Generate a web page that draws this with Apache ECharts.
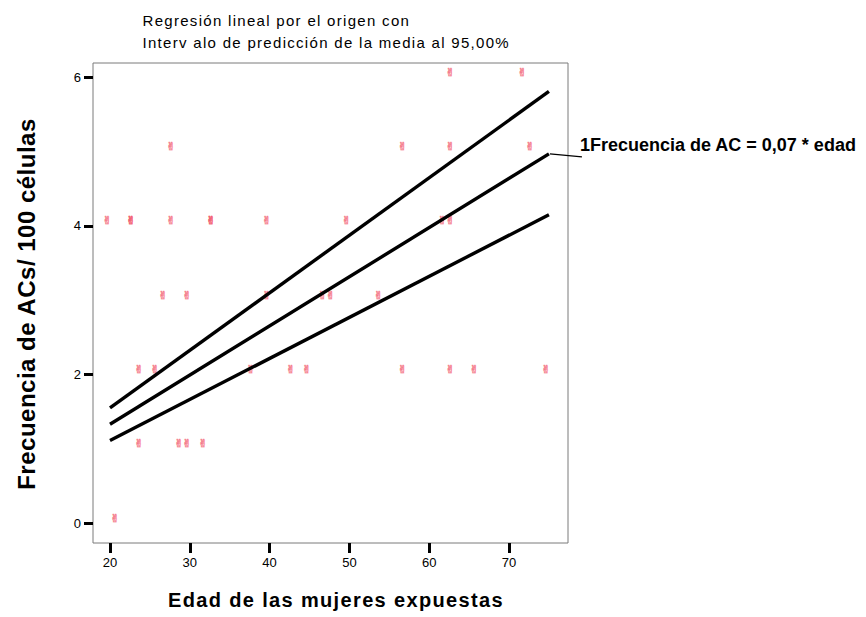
<!DOCTYPE html>
<html><head><meta charset="utf-8">
<script src="https://cdn.jsdelivr.net/npm/echarts@6/dist/echarts.min.js"></script>
<style>html,body{margin:0;padding:0;background:#fff;}#chart{width:866px;height:617px;}</style>
</head><body><div id="chart"></div>
<script>
// Datos
const edad = [21, 24, 29, 30, 32, 24, 26, 38, 43, 45, 57, 63, 66, 75, 27, 30, 40, 47, 48, 54, 20, 23, 23, 28, 33, 33, 40, 50, 62, 63, 28, 57, 63, 73, 63, 72];
const frecuencia = [0, 1, 1, 1, 1, 2, 2, 2, 2, 2, 2, 2, 2, 2, 3, 3, 3, 3, 3, 3, 4, 4, 4, 4, 4, 4, 4, 4, 4, 4, 5, 5, 5, 5, 6, 6];
const lineaEdad = [20, 75];
const ajuste = [1.33, 4.97];
const limiteSuperior = [1.55, 5.81];
const limiteInferior = [1.11, 4.15];
const xTicks = [20, 30, 40, 50, 60, 70];
const yTicks = [0, 2, 4, 6];
const tituloLineas = ['Regresión lineal por el origen con', 'Interv alo de predicción de la media al 95,00%'];
const ecuacion = '1Frecuencia de AC = 0,07 * edad';
const xNombre = 'Edad de las mujeres expuestas';
const yNombre = 'Frecuencia de ACs/ 100 células';
const marcador = '\u270C';

const FONT = '"Liberation Sans", Arial, sans-serif';
const chart = echarts.init(document.getElementById('chart'), null, {renderer: 'svg', width: 866, height: 617});

const puntos = edad.map((e, i) => [e, frecuencia[i]]);
const mk = arr => lineaEdad.map((x, i) => [x, arr[i]]);
const lineStyle = {color: '#000', width: 3.4};

const option = {
  animation: false,
  backgroundColor: '#fff',
  grid: {left: 93, top: 63, right: 298, bottom: 74, show: true, borderColor: '#7a7a7a', borderWidth: 1, backgroundColor: 'transparent'},
  xAxis: {
    type: 'value', min: 17.87, max: 77.39,
    axisLine: {show: false, onZero: false}, splitLine: {show: false},
    axisTick: {show: true, customValues: xTicks, length: 10, lineStyle: {color: '#000', width: 3}},
    axisLabel: {customValues: xTicks, margin: 13, fontSize: 13, color: '#000', fontFamily: FONT}
  },
  yAxis: {
    type: 'value', min: -0.269, max: 6.193,
    axisLine: {show: false, onZero: false}, splitLine: {show: false},
    axisTick: {show: true, customValues: yTicks, length: 9, lineStyle: {color: '#000', width: 3}},
    axisLabel: {customValues: yTicks, margin: 12, fontSize: 13, color: '#000', fontFamily: FONT}
  },
  series: [
    {
      type: 'scatter', data: puntos, symbol: 'circle', symbolSize: 1,
      itemStyle: {color: 'rgba(255,255,255,0)'},
      label: {show: true, position: 'inside', formatter: marcador, offset: [-3, -5],
        color: 'rgb(240,70,95)', textBorderColor: 'rgba(245,110,125,0.7)', textBorderWidth: 0.9,
        fontSize: 11, fontFamily: '"DejaVu Sans", "Noto Sans", sans-serif'},
      z: 3
    },
    {type: 'line', data: mk(limiteSuperior), symbol: 'none', showSymbol: false, lineStyle: lineStyle, z: 4},
    {type: 'line', data: mk(ajuste), symbol: 'none', showSymbol: false, lineStyle: lineStyle, z: 4},
    {type: 'line', data: mk(limiteInferior), symbol: 'none', showSymbol: false, lineStyle: lineStyle, z: 4}
  ]
};
chart.setOption(option);

const fin = chart.convertToPixel({gridIndex: 0}, [lineaEdad[1], ajuste[1]]);
chart.setOption({
  graphic: [
    {type: 'line', shape: {x1: fin[0] + 1, y1: fin[1], x2: fin[0] + 33, y2: fin[1] + 3}, style: {stroke: '#000', lineWidth: 1.2}},
    {type: 'text', x: fin[0] + 31, y: fin[1] - 9, style: {text: ecuacion, fill: '#000', fontSize: 18, fontWeight: 'bold', fontFamily: FONT, align: 'left', verticalAlign: 'middle'}},
    {type: 'text', x: 142.5, y: 20.5, style: {text: tituloLineas[0], fill: '#000', fontSize: 15, fontFamily: FONT, align: 'left', verticalAlign: 'middle'}},
    {type: 'text', x: 142.5, y: 42.5, style: {text: tituloLineas[1], fill: '#000', fontSize: 15, fontFamily: FONT, align: 'left', verticalAlign: 'middle'}},
    {type: 'text', x: 336, y: 600, style: {text: xNombre, fill: '#000', fontSize: 20, fontWeight: 'bold', fontFamily: FONT, align: 'center', verticalAlign: 'middle'}},
    {type: 'text', x: 26, y: 304, rotation: Math.PI / 2, style: {text: yNombre, fill: '#000', fontSize: 24, fontWeight: 'bold', fontFamily: FONT, align: 'center', verticalAlign: 'middle'}}
  ]
});

function espaciado() {
  const mapa = {};
  mapa[tituloLineas[0]] = 1.3;
  mapa[tituloLineas[1]] = 1.3;
  mapa[xNombre] = 1.35;
  mapa[yNombre] = 0.5;
  document.querySelectorAll('#chart text').forEach(t => {
    const s = mapa[t.textContent];
    if (s != null) t.style.letterSpacing = s + 'px';
  });
}
espaciado();
chart.on('finished', espaciado);
</script>
</body></html>
